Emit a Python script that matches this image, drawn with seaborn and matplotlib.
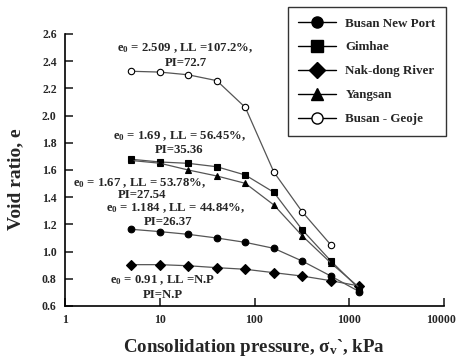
import matplotlib
matplotlib.use("Agg")
import matplotlib.pyplot as plt
from matplotlib.lines import Line2D
import matplotlib.transforms as mtransforms
import seaborn as sns
import pandas as pd

# Consolidation pressure steps (kPa)
pressure = [5, 10, 20, 40, 80, 160, 320, 640, 1280]

# Void ratio at each pressure step
busan_new_port = [1.164, 1.147, 1.127, 1.100, 1.068, 1.024, 0.930, 0.820, 0.705]
gimhae = [1.679, 1.659, 1.649, 1.624, 1.563, 1.436, 1.159, 0.931, 0.725]
nakdong_river = [0.904, 0.904, 0.896, 0.882, 0.870, 0.845, 0.820, 0.786, 0.747]
yangsan = [1.670, 1.650, 1.600, 1.556, 1.502, 1.343, 1.115, 0.916, 0.735]
busan_geoje = [2.326, 2.320, 2.300, 2.257, 2.060, 1.585, 1.291, 1.049]

series_names = ["Busan New Port", "Gimhae", "Nak-dong River", "Yangsan", "Busan - Geoje"]
series_values = [busan_new_port, gimhae, nakdong_river, yangsan, busan_geoje]
series_markers = ["o", "s", "D", "^", "o"]
series_faces = ["black", "black", "black", "black", "white"]
series_sizes = [4.8, 4.6, 4.6, 4.8, 4.6]

x_ticks = [1, 10, 100, 1000, 10000]
y_ticks = [0.6, 0.8, 1.0, 1.2, 1.4, 1.6, 1.8, 2.0, 2.2, 2.4, 2.6]

annotations = [
    ("e$_0$ = 2.509 , LL =107.2%,", 185, 48),
    ("PI=72.7", 186, 63),
    ("e$_0$ = 1.69 , LL = 56.45%,", 179, 136),
    ("PI=35.36", 179, 150),
    ("e$_0$ = 1.67 , LL = 53.78%,", 139, 183),
    ("PI=27.54", 142, 195),
    ("e$_0$ = 1.184 , LL = 44.84%,", 176, 208),
    ("PI=26.37", 168, 222),
    ("e$_0$ = 0.91 , LL =N.P", 163, 280),
    ("PI=N.P", 163, 295),
]

sns.set_style("ticks")
plt.rcParams["font.family"] = ["Liberation Serif", "DejaVu Serif"]
plt.rcParams["font.weight"] = "bold"
plt.rcParams["mathtext.fontset"] = "custom"
plt.rcParams["mathtext.rm"] = "Liberation Serif:bold"
plt.rcParams["mathtext.it"] = "Liberation Serif:bold"
plt.rcParams["mathtext.bf"] = "Liberation Serif:bold"

W, H = 457, 360
fig = plt.figure(figsize=(W / 100, H / 100), dpi=100)
ax = fig.add_axes([65 / W, 1 - 306 / H, (444 - 65) / W, (306 - 34) / H])

line_color = "#555555"
for name, vals, mk, fc, ms in zip(series_names, series_values, series_markers,
                                  series_faces, series_sizes):
    df = pd.DataFrame({"p": pressure[:len(vals)], "e": vals})
    sns.lineplot(data=df, x="p", y="e", ax=ax, color=line_color, linewidth=0.9,
                 marker=mk, markersize=ms, markerfacecolor=fc,
                 markeredgecolor="black", markeredgewidth=0.8, legend=False)

ax.set_xscale("log")
ax.set_xlim(1, 10000)
ax.set_ylim(0.6, 2.6)
ax.set_xticks(x_ticks)
ax.set_xticklabels([str(v) for v in x_ticks])
ax.minorticks_off()
ax.set_yticks(y_ticks)
ax.set_yticklabels([f"{v:.1f}" for v in y_ticks])
ax.tick_params(axis="both", direction="in", length=6, width=1.2,
               labelsize=8.5, pad=6)
for lab in ax.get_xticklabels() + ax.get_yticklabels():
    lab.set_fontweight("bold")
# keep the widest x label inside the figure
last = ax.get_xticklabels()[-1]
last.set_transform(last.get_transform() +
                   mtransforms.ScaledTranslation(-3 / 100, 0, fig.dpi_scale_trans))

sns.despine(ax=ax)
ax.spines["left"].set_linewidth(1.2)
ax.spines["bottom"].set_linewidth(1.2)
ax.spines["left"].set_color("black")
ax.spines["bottom"].set_color("black")

ax.set_xlabel("Consolidation pressure, σ$_\\mathrm{v}$`, kPa", fontsize=13.6,
              fontweight="bold", labelpad=8)
ax.set_ylabel("Void ratio, e", fontsize=14, fontweight="bold")
ax.yaxis.set_label_coords(-(65 - 24) / 379, (306 - 179) / 272)

for txt, px, py in annotations:
    fig.text(px / W, 1 - py / H, txt, ha="center", va="center",
             fontsize=9.2, fontweight="bold")

handles = [Line2D([0], [0], color="black", linewidth=1.0, marker=mk,
                  markersize=8, markerfacecolor=fc, markeredgecolor="black")
           for mk, fc in zip(series_markers, series_faces)]
leg = fig.legend(handles, series_names, loc="upper right",
                 bbox_to_anchor=(446 / W, 1 - 7 / H), frameon=True,
                 fancybox=False, edgecolor="black",
                 labelspacing=0.9, handlelength=2.9, borderpad=0.8,
                 handletextpad=0.7, borderaxespad=0,
                 prop={"weight": "bold", "size": 9.4})
leg.get_frame().set_linewidth(1.0)

fig.savefig("out.png", dpi=100)
